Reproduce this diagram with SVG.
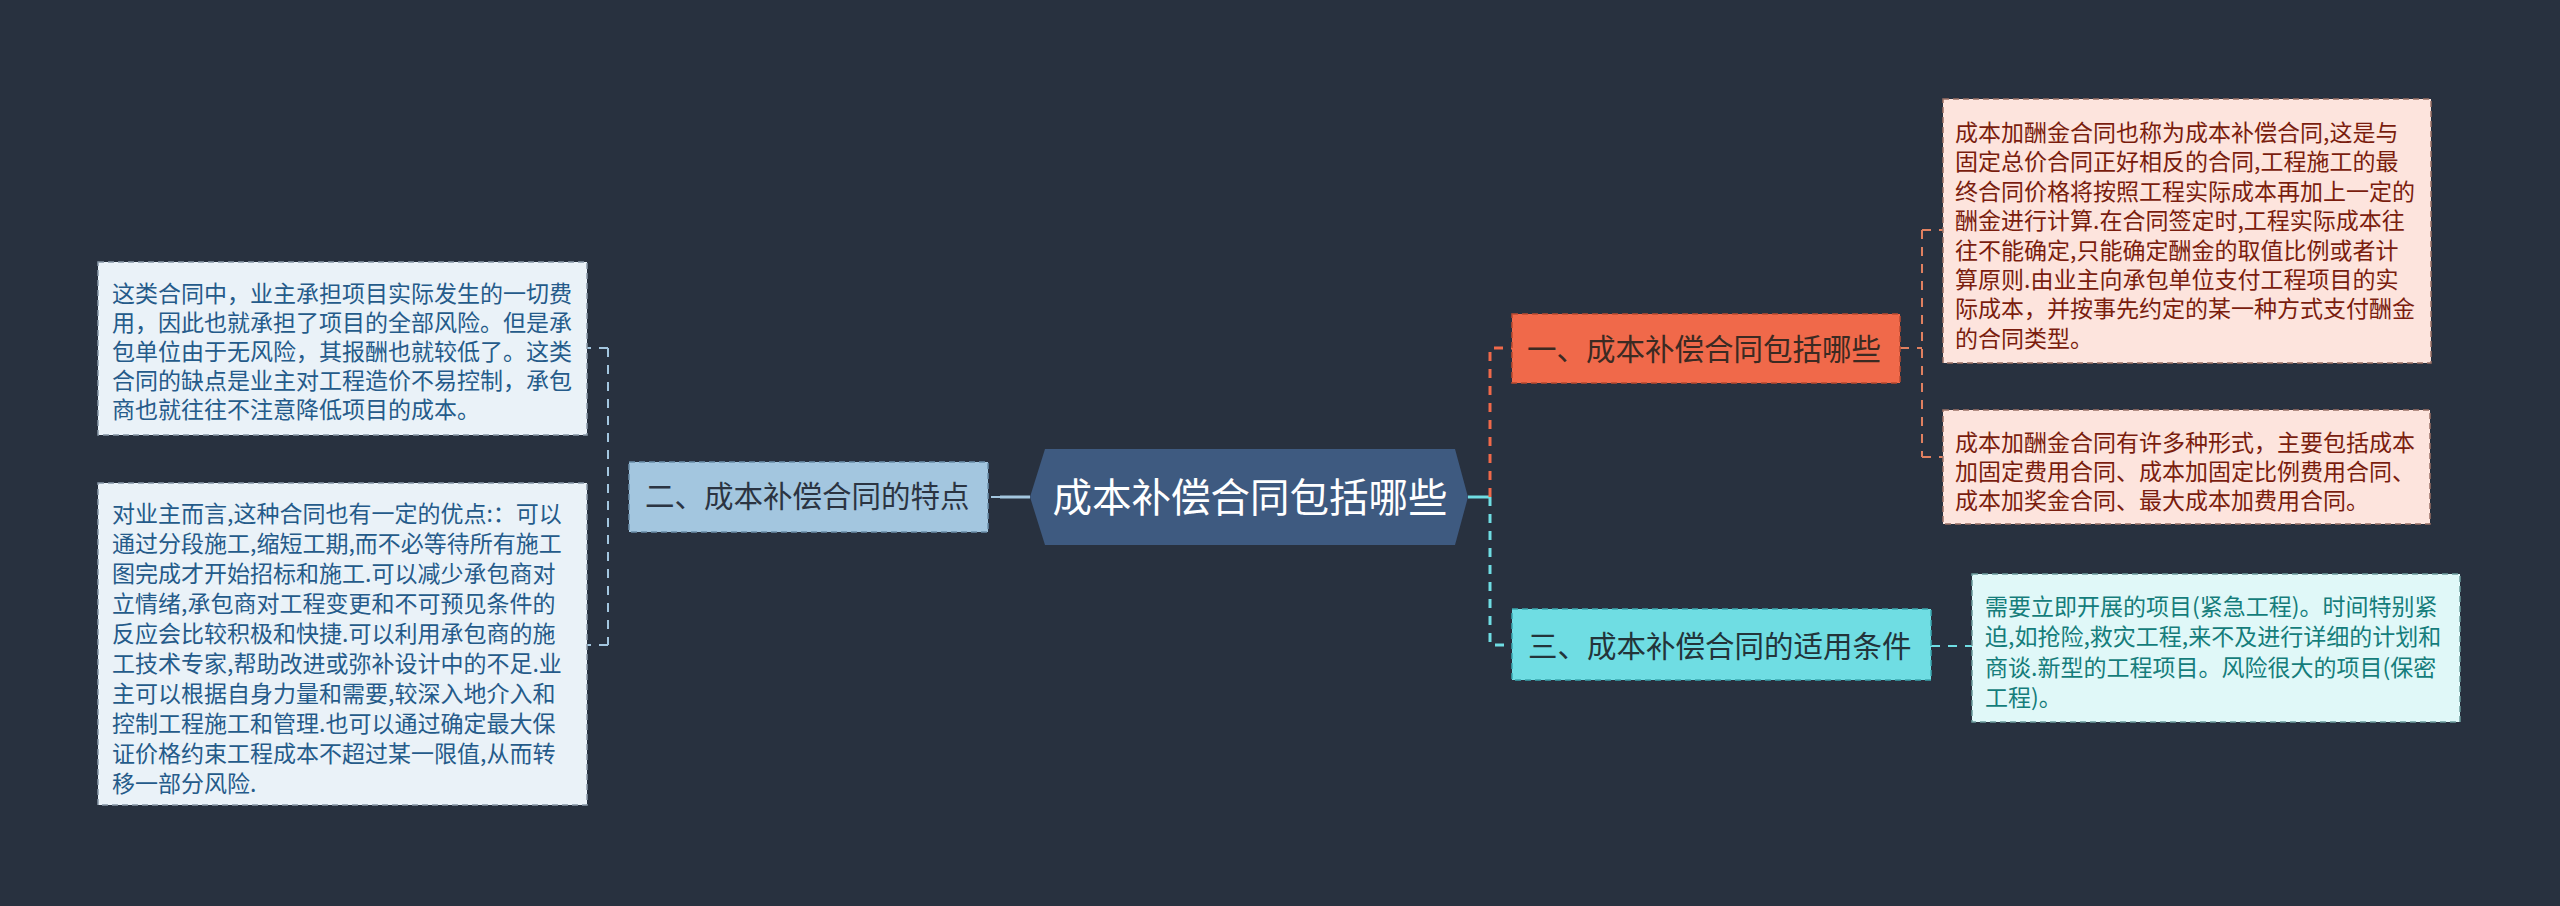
<svg xmlns="http://www.w3.org/2000/svg" width="2560" height="906" viewBox="0 0 2560 906">
<style>
text{font-family:"Noto Sans CJK SC","Noto Sans",sans-serif;}
.main{font-size:29.5px;}
.leaf{font-size:23px;}
.blueTxt{fill:#255b8a;}
.redTxt{fill:#7a1d0e;}
.tealTxt{fill:#157d7b;}
.dash3{fill:none;stroke-width:3;stroke-dasharray:9 8;}
.dash2{fill:none;stroke-width:2;stroke-dasharray:9 8;}
</style>
<rect x="0" y="0" width="2560" height="906" fill="#28313f"/>
<g id="connectors">
  <line x1="1030" y1="497" x2="1000" y2="497" stroke="#a3c6df" stroke-width="3"/>
  <line x1="1000" y1="497" x2="629" y2="497" stroke="#a3c6df" class="dash2"/>
  <path d="M608 348 H587 M608 348 V645 M608 645 H587" stroke="#a3c6df" class="dash2"/>
  <line x1="1468" y1="497" x2="1490" y2="497" stroke="#6fdde3" stroke-width="3"/>
  <path d="M1490 497 V348 H1512" stroke="#f0694a" class="dash3"/>
  <path d="M1490 497 V645 H1512" stroke="#6fdde3" class="dash3"/>
  <path d="M1900 348 H1922 M1922 230 V457 M1922 230 H1943 M1922 457 H1943" stroke="#e08060" class="dash2"/>
  <path d="M1931 646 H1972" stroke="#6fdde3" class="dash2"/>
</g>
<g id="center">
  <polygon points="1030,497 1045,449 1455,449 1468,497 1455,545 1045,545" fill="#3e5a80"/>
  <text x="1250" y="512" font-size="39.5" fill="#ffffff" text-anchor="middle">成本补偿合同包括哪些</text>
</g>
<g id="n1">
  <rect x="1512" y="314" width="388" height="69" fill="#f0694a" stroke="#b94a30" stroke-width="1.5" stroke-dasharray="6 4"/>
  <text class="main" x="1527" y="359.5" fill="#3b2a22">一、成本补偿合同包括哪些</text>
</g>
<g id="n2">
  <rect x="629" y="462" width="359" height="70" fill="#a3c6df" stroke="#6b8fab" stroke-width="1.5" stroke-dasharray="6 4"/>
  <text class="main" x="645" y="507" fill="#2b3442">二、成本补偿合同的特点</text>
</g>
<g id="n3">
  <rect x="1512" y="609" width="419" height="71" fill="#6fdde3" stroke="#3aa8b0" stroke-width="1.5" stroke-dasharray="6 4"/>
  <text class="main" x="1528" y="657" fill="#23343a">三、成本补偿合同的适用条件</text>
</g>
<g id="n1a">
  <rect x="1943" y="99" width="488" height="264" fill="#fde4dd" stroke="#9a7066" stroke-width="1.5" stroke-dasharray="6 4"/>
  <text class="leaf redTxt" x="1955" y="141">
    <tspan x="1955" dy="0">成本加酬金合同也称为成本补偿合同,这是与</tspan>
    <tspan x="1955" dy="29.4">固定总价合同正好相反的合同,工程施工的最</tspan>
    <tspan x="1955" dy="29.4">终合同价格将按照工程实际成本再加上一定的</tspan>
    <tspan x="1955" dy="29.4">酬金进行计算.在合同签定时,工程实际成本往</tspan>
    <tspan x="1955" dy="29.4">往不能确定,只能确定酬金的取值比例或者计</tspan>
    <tspan x="1955" dy="29.4">算原则.由业主向承包单位支付工程项目的实</tspan>
    <tspan x="1955" dy="29.4">际成本，并按事先约定的某一种方式支付酬金</tspan>
    <tspan x="1955" dy="29.4">的合同类型。</tspan>
  </text>
</g>
<g id="n1b">
  <rect x="1943" y="410" width="487" height="114" fill="#fde4dd" stroke="#9a7066" stroke-width="1.5" stroke-dasharray="6 4"/>
  <text class="leaf redTxt" x="1955" y="451">
    <tspan x="1955" dy="0">成本加酬金合同有许多种形式，主要包括成本</tspan>
    <tspan x="1955" dy="29">加固定费用合同、成本加固定比例费用合同、</tspan>
    <tspan x="1955" dy="29">成本加奖金合同、最大成本加费用合同。</tspan>
  </text>
</g>
<g id="n2a">
  <rect x="98" y="262" width="489" height="173" fill="#eaf2f8" stroke="#8898a8" stroke-width="1.5" stroke-dasharray="6 4"/>
  <text class="leaf blueTxt" x="112" y="302">
    <tspan x="112" dy="0">这类合同中，业主承担项目实际发生的一切费</tspan>
    <tspan x="112" dy="29">用，因此也就承担了项目的全部风险。但是承</tspan>
    <tspan x="112" dy="29">包单位由于无风险，其报酬也就较低了。这类</tspan>
    <tspan x="112" dy="29">合同的缺点是业主对工程造价不易控制，承包</tspan>
    <tspan x="112" dy="29">商也就往往不注意降低项目的成本。</tspan>
  </text>
</g>
<g id="n2b">
  <rect x="98" y="483" width="489" height="322" fill="#eaf2f8" stroke="#8898a8" stroke-width="1.5" stroke-dasharray="6 4"/>
  <text class="leaf blueTxt" x="112" y="522">
    <tspan x="112" dy="0">对业主而言,这种合同也有一定的优点:：可以</tspan>
    <tspan x="112" dy="30">通过分段施工,缩短工期,而不必等待所有施工</tspan>
    <tspan x="112" dy="30">图完成才开始招标和施工.可以减少承包商对</tspan>
    <tspan x="112" dy="30">立情绪,承包商对工程变更和不可预见条件的</tspan>
    <tspan x="112" dy="30">反应会比较积极和快捷.可以利用承包商的施</tspan>
    <tspan x="112" dy="30">工技术专家,帮助改进或弥补设计中的不足.业</tspan>
    <tspan x="112" dy="30">主可以根据自身力量和需要,较深入地介入和</tspan>
    <tspan x="112" dy="30">控制工程施工和管理.也可以通过确定最大保</tspan>
    <tspan x="112" dy="30">证价格约束工程成本不超过某一限值,从而转</tspan>
    <tspan x="112" dy="30">移一部分风险.</tspan>
  </text>
</g>
<g id="n3a">
  <rect x="1972" y="574" width="488" height="148" fill="#e0f8f8" stroke="#6a9a9c" stroke-width="1.5" stroke-dasharray="6 4"/>
  <text class="leaf tealTxt" x="1985" y="615">
    <tspan x="1985" dy="0">需要立即开展的项目(紧急工程)。时间特别紧</tspan>
    <tspan x="1985" dy="30.4">迫,如抢险,救灾工程,来不及进行详细的计划和</tspan>
    <tspan x="1985" dy="30.4">商谈.新型的工程项目。风险很大的项目(保密</tspan>
    <tspan x="1985" dy="30.4">工程)。</tspan>
  </text>
</g>
</svg>
